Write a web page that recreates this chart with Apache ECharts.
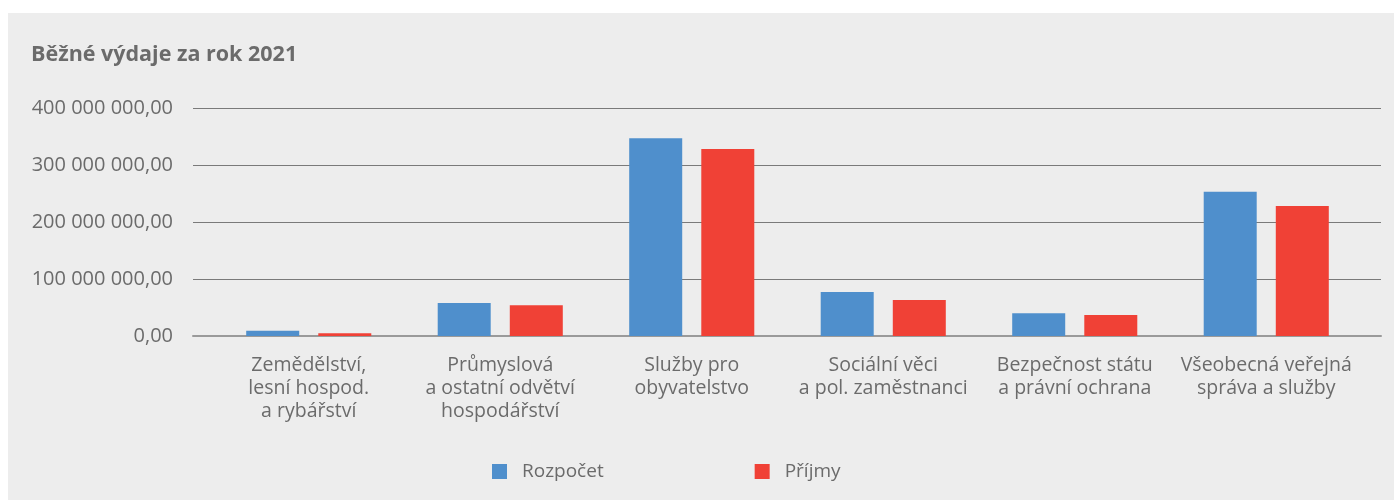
<!DOCTYPE html>
<html>
<head>
<meta charset="utf-8">
<script src="https://cdn.jsdelivr.net/npm/echarts@6/dist/echarts.min.js"></script>
<style>
  html, body { margin: 0; padding: 0; background: #fff; }
  #chart { width: 1394px; height: 500px; }
</style>
</head>
<body>
<div id="chart"></div>
<script>
// data
const categories = [
  "Zemědělství,\nlesní hospod.\na rybářství",
  "Průmyslová\na ostatní odvětví\nhospodářství",
  "Služby pro\nobyvatelstvo",
  "Sociální věci\na pol. zaměstnanci",
  "Bezpečnost státu\na právní ochrana",
  "Všeobecná veřejná\nspráva a služby"
];
const rozpocet = [9000000, 58000000, 347000000, 77000000, 40000000, 253000000];
const prijmy = [5000000, 54000000, 328000000, 63000000, 37000000, 228000000];
const seriesNames = ["Rozpočet", "Příjmy"];
const yTicks = [0, 100000000, 200000000, 300000000, 400000000];

const textColor = "#6b6b6b";
const fontFamily = "'Open Sans', Roboto, sans-serif";

function fmt(v) {
  return Math.round(v).toString().replace(/\B(?=(\d{3})+(?!\d))/g, " ") + ",00";
}

const chart = echarts.init(document.getElementById("chart"));
const yMax = yTicks[yTicks.length - 1];
const yStep = yTicks[1] - yTicks[0];

chart.setOption({
  backgroundColor: "#fff",
  animation: false,
  textStyle: { fontFamily: fontFamily },
  graphic: [
    {
      type: "rect",
      z: -10,
      silent: true,
      shape: { x: 8, y: 13, width: 1386, height: 487 },
      style: { fill: "#ededed" }
    }
  ],
  title: {
    text: "Běžné výdaje za rok 2021",
    left: 26,
    top: 39,
    textStyle: { color: textColor, fontSize: 21.5, fontWeight: "bold", fontFamily: fontFamily }
  },
  legend: {
    left: 487,
    top: 457,
    icon: "rect",
    itemWidth: 15,
    itemHeight: 15,
    itemGap: 151,
    data: seriesNames,
    textStyle: { color: textColor, fontSize: 19, padding: [0, 0, 0, 10] }
  },
  grid: [
    { left: 193, right: 13, top: 108, bottom: 164 },
    { left: 213, right: 32, top: 108, bottom: 164 }
  ],
  xAxis: [
    {
      type: "category",
      gridIndex: 0,
      data: categories,
      axisLine: { lineStyle: { color: "#9a9a9a", width: 2 } },
      axisTick: { show: false },
      axisLabel: { show: false }
    },
    {
      type: "category",
      gridIndex: 1,
      data: categories,
      axisLine: { show: false },
      axisTick: { show: false },
      axisLabel: {
        color: textColor,
        fontSize: 19.5,
        lineHeight: 23,
        margin: 18,
        interval: 0,
        align: "center"
      }
    }
  ],
  yAxis: [
    {
      type: "value",
      gridIndex: 0,
      min: 0,
      max: yMax,
      interval: yStep,
      axisLine: { show: false },
      axisTick: { show: false },
      splitLine: { lineStyle: { color: "#7a7a7a", width: 1 } },
      axisLabel: { color: textColor, fontSize: 20, margin: 20, formatter: fmt }
    },
    {
      type: "value",
      gridIndex: 1,
      min: 0,
      max: yMax,
      interval: yStep,
      show: false,
      splitLine: { show: false }
    }
  ],
  series: [
    {
      name: seriesNames[0],
      type: "bar",
      xAxisIndex: 1,
      yAxisIndex: 1,
      data: rozpocet,
      barWidth: 53,
      barGap: "36%",
      itemStyle: { color: "#4f8fcc" }
    },
    {
      name: seriesNames[1],
      type: "bar",
      xAxisIndex: 1,
      yAxisIndex: 1,
      data: prijmy,
      barWidth: 53,
      barGap: "36%",
      itemStyle: { color: "#f04136" }
    }
  ]
});
</script>
</body>
</html>
